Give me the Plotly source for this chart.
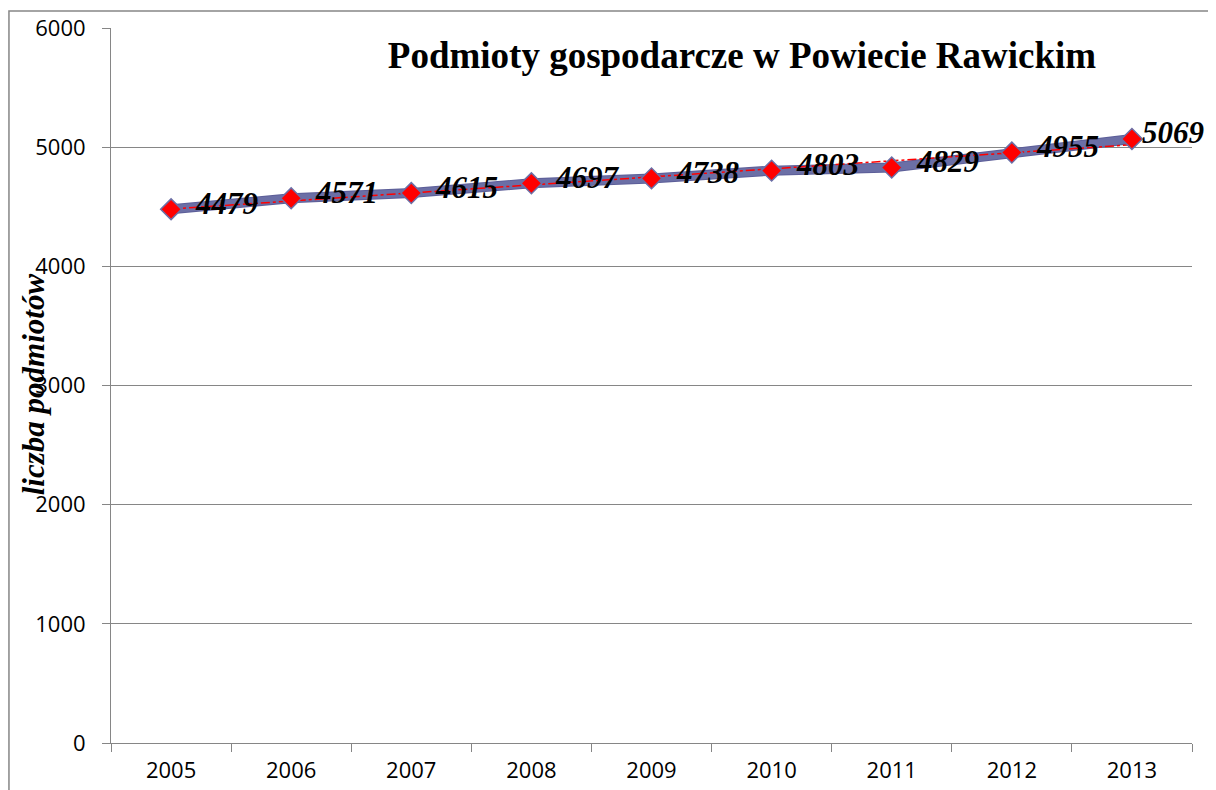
import numpy as np
import plotly.graph_objects as go

years = ["2005", "2006", "2007", "2008", "2009", "2010", "2011", "2012", "2013"]
podmioty = [4479, 4571, 4615, 4697, 4738, 4803, 4829, 4955, 5069]
y_ticks = [0, 1000, 2000, 3000, 4000, 5000, 6000]

# liniowa linia trendu
idx = np.arange(len(podmioty))
a, b = np.polyfit(idx, podmioty, 1)
trend = a * idx + b

serif = "Liberation Serif, Times New Roman, serif"
sans = "Open Sans, Liberation Sans, sans-serif"

fig = go.Figure()
fig.add_trace(go.Scatter(
    x=years, y=podmioty, mode="lines",
    line=dict(color="#5c5e98", width=10),
    hoverinfo="skip", showlegend=False,
))
fig.add_trace(go.Scatter(
    x=years, y=podmioty, mode="lines",
    line=dict(color="#6b6fa6", width=8),
    hoverinfo="skip", showlegend=False,
))
fig.add_trace(go.Scatter(
    x=years, y=trend, mode="lines",
    line=dict(color="#ff0000", width=1.5, dash="dashdot"),
    hoverinfo="skip", showlegend=False,
))
fig.add_trace(go.Scatter(
    x=years, y=podmioty, mode="markers",
    marker=dict(symbol="diamond", size=16, color="#ff0000",
                line=dict(color="#6b6fa6", width=1.5)),
    showlegend=False,
))

# etykiety danych (x = indeks kategorii); ostatnia dosunięta, żeby zmieściła się w ramce
for i, v in zip(idx, podmioty):
    last = i == idx[-1]
    fig.add_annotation(
        x=int(i), y=v, text=str(v), showarrow=False,
        xanchor="left", yanchor="middle", xshift=8 if last else 22, yshift=6,
        font=dict(family=serif, size=31, color="black", weight="bold", style="italic"),
    )

fig.update_layout(
    width=1208, height=782,
    margin=dict(l=103, r=24, t=20, b=47),
    plot_bgcolor="white", paper_bgcolor="white",
    title=dict(text="<b>Podmioty gospodarcze w Powiecie Rawickim</b>",
               font=dict(family=serif, size=37, color="black"),
               x=0.6076, xanchor="center", y=0.94, yanchor="middle"),
    font=dict(family=sans, size=22, color="black"),
)
fig.update_xaxes(
    type="category", range=[-0.5, 8.5], tickson="boundaries", ticks="outside", ticklen=8,
    tickcolor="#868686", showline=True, linecolor="#868686", linewidth=1,
    showgrid=False, tickfont=dict(family=sans, size=22), ticklabelstandoff=8,
    tickangle=0, automargin=False,
)
fig.update_yaxes(
    range=[0, 6000], tickvals=y_ticks, ticks="outside", ticklen=8,
    tickcolor="#868686", showline=True, linecolor="#868686", linewidth=1,
    gridcolor="#868686", gridwidth=1, zeroline=False,
    tickfont=dict(family=sans, size=22), ticklabelstandoff=12, automargin=False,
)
fig.add_annotation(
    text="liczba podmiotów", textangle=-90, showarrow=False,
    xref="paper", yref="paper", x=-0.072, y=0.502, xanchor="center", yanchor="middle",
    font=dict(family=serif, size=31, color="black", weight="bold", style="italic"),
)
# ramka wykresu
fig.add_shape(type="rect", xref="paper", yref="paper",
              x0=-0.0944, y0=-0.2, x1=1.1, y1=1.0238,
              line=dict(color="#868686", width=1.5), layer="below")

fig.write_html("out.html")
